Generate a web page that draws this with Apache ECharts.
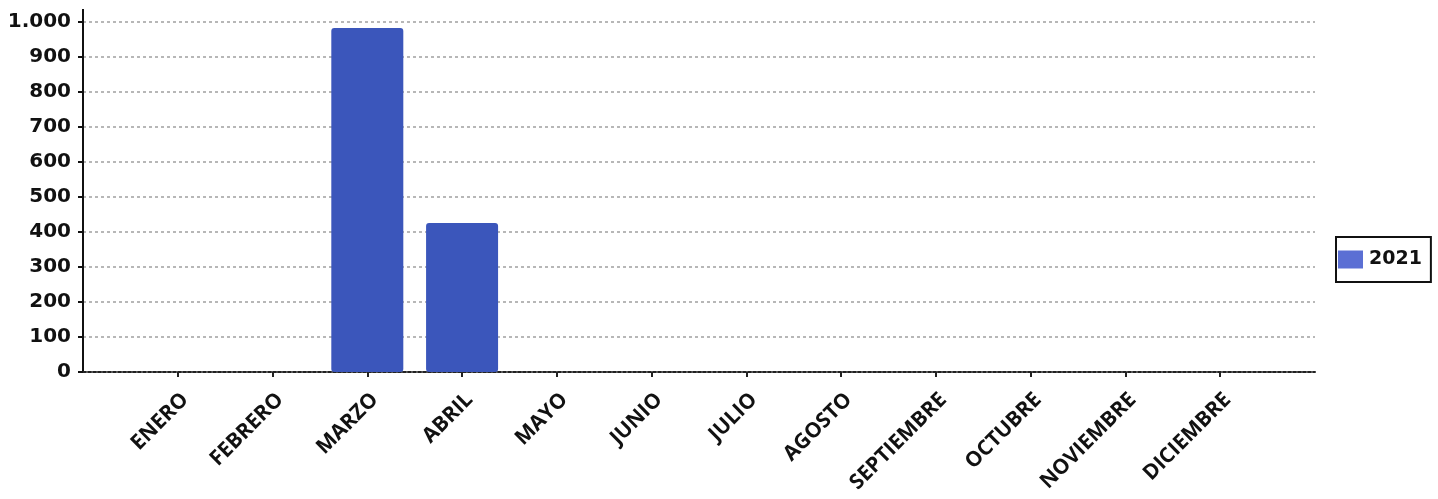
<!DOCTYPE html>
<html>
<head>
<meta charset="utf-8">
<script src="https://cdn.jsdelivr.net/npm/echarts@6/dist/echarts.min.js"></script>
<style>
html,body{margin:0;padding:0;background:#fff;}
#c{width:1438px;height:499px;}
</style>
</head>
<body>
<div id="c"></div>
<script>
const months = ['ENERO','FEBRERO','MARZO','ABRIL','MAYO','JUNIO','JULIO','AGOSTO','SEPTIEMBRE','OCTUBRE','NOVIEMBRE','DICIEMBRE'];
const values2021 = [0, 0, 983, 426, 0, 0, 0, 0, 0, 0, 0, 0];
const seriesName = '2021';
const yTicks = [0, 100, 200, 300, 400, 500, 600, 700, 800, 900, 1000];

// pad categories so the first and last months sit one step inside the plot
const cats = [''].concat(months, ['']);
const vals = [null].concat(values2021, [null]);

const chart = echarts.init(document.getElementById('c'), null, {renderer: 'canvas'});
const fmt = v => v >= 1000 ? String(Math.floor(v/1000)) + '.' + String(v % 1000).padStart(3, '0') : String(v);

chart.setOption({
  animation: false,
  backgroundColor: '#ffffff',
  grid: {left: 83, right: 123, top: 22, bottom: 127, containLabel: false},
  legend: {
    data: [{name: seriesName, icon: 'rect'}],
    orient: 'vertical',
    left: 1336, top: 237,
    padding: [13, 9, 13, 2],
    itemWidth: 25, itemHeight: 18, itemGap: 0,
    borderColor: '#111', borderWidth: 2, borderRadius: 0,
    backgroundColor: '#fff',
    textStyle: {fontFamily: 'DejaVu Sans', fontWeight: 'bold', fontSize: 19, color: '#111', padding: [0, 0, 0, 1]},
    itemStyle: {color: '#5b6fd4'}
  },
  xAxis: {
    type: 'category',
    data: cats,
    boundaryGap: false,
    axisLine: {show: true, onZero: true, lineStyle: {color: '#222', width: 2, type: [3, 2]}},
    axisTick: {show: true, length: 5, lineStyle: {color: '#222', width: 2}, interval: (i, v) => v !== ''},
    axisLabel: {
      interval: 0, rotate: 45, margin: 17,
      verticalAlign: 'top',
      fontFamily: 'Open Sans', fontWeight: 'bold', fontSize: 21, color: '#111',
      formatter: v => v
    },
    splitLine: {show: false}
  },
  yAxis: {
    type: 'value',
    min: 0, max: 1000, interval: 100,
    axisLine: {show: true, lineStyle: {color: '#111', width: 2}, symbol: ['none', 'rect'], symbolSize: [2, 14], symbolOffset: [0, 6]},
    axisTick: {show: true, length: 5, lineStyle: {color: '#111', width: 2}},
    axisLabel: {
      margin: 12, fontFamily: 'DejaVu Sans', fontWeight: 'bold', fontSize: 20, color: '#111',
      formatter: v => yTicks.indexOf(v) >= 0 ? fmt(v) : ''
    },
    splitLine: {show: true, lineStyle: {color: '#a0a0a0', width: 1.5, type: [3, 3]}}
  },
  series: [{
    name: seriesName,
    type: 'bar',
    data: vals,
    barWidth: 72,
    itemStyle: {color: '#3b56bb', borderRadius: 3}
  }]
});
</script>
</body>
</html>
